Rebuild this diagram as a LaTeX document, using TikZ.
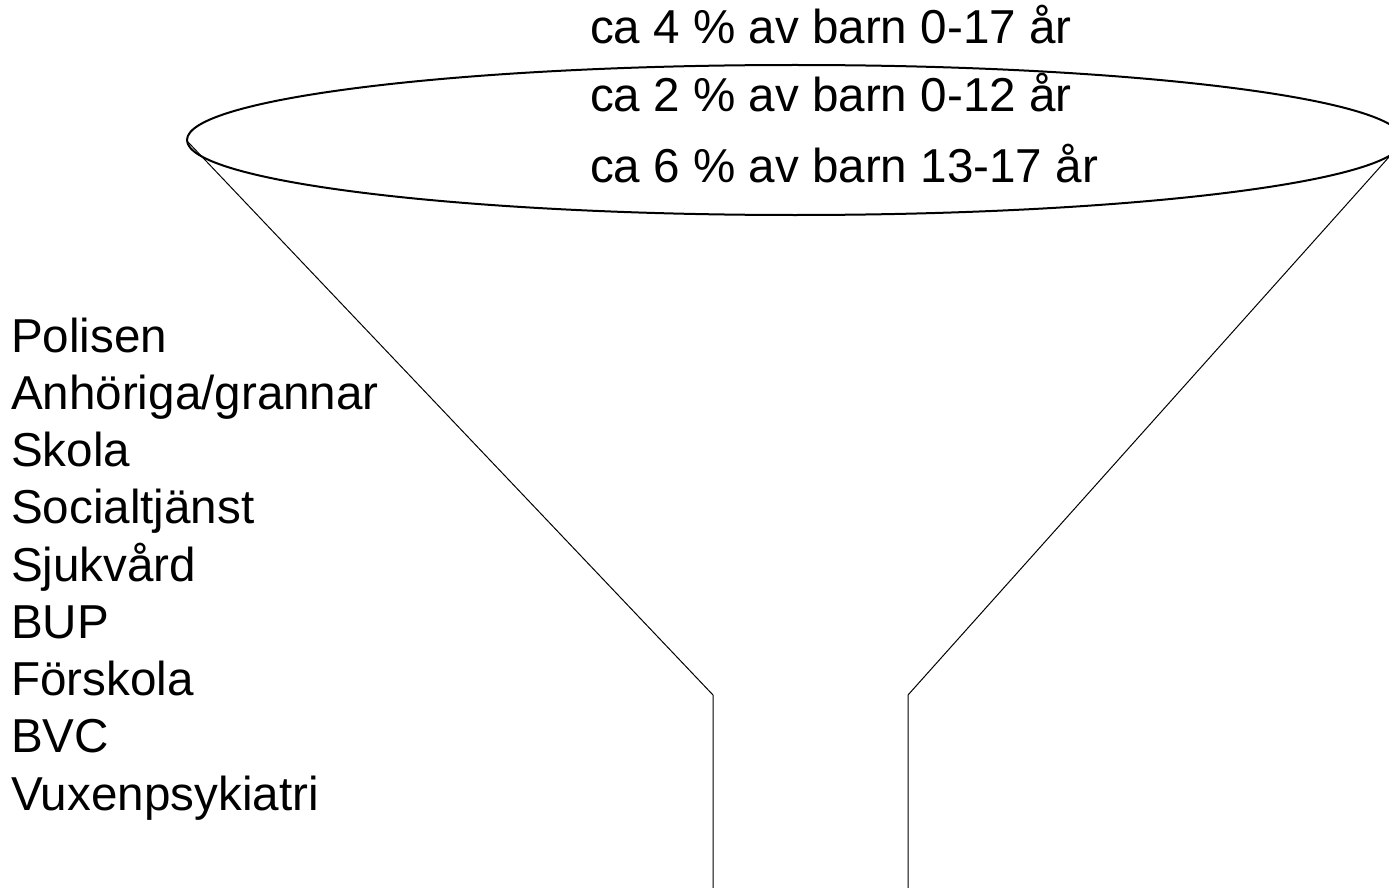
\documentclass[tikz,border=0pt]{standalone}
\usepackage{fontspec}
\setmainfont{Liberation Sans}
\begin{document}
\begin{tikzpicture}[x=1pt,y=-1pt,
  lbl/.style={anchor=base west,inner sep=0pt,outer sep=0pt,font=\fontsize{47.6}{55}\selectfont},
  rim/.style={draw=black,line width=2pt},
  funnelline/.style={draw=black,line width=1pt}]
\clip (0,0) rectangle (1389,888);
% rim of the funnel
\draw[rim] (795,140) ellipse [x radius=608, y radius=75];
% funnel sides
\coordinate (lt) at (188,142);
\coordinate (lm) at (713,695);
\coordinate (lb) at (713,888);
\coordinate (rt) at (1389,157);
\coordinate (rm) at (908,695);
\coordinate (rb) at (908,888);
\draw[funnelline] (lt) -- (lm) -- (lb);
\draw[funnelline] (rt) -- (rm) -- (rb);
% top texts
\node[lbl] (t1) at (590,44) {ca 4 \% av barn 0-17 år};
\node[lbl] (t2) at (590,112) {ca 2 \% av barn 0-12 år};
\node[lbl] (t3) at (590,182) {ca 6 \% av barn 13-17 år};
% list
\node[lbl] (s1) at (11,352) {Polisen};
\node[lbl] (s2) at (11,409.25) {Anhöriga/grannar};
\node[lbl] (s3) at (11,466.5) {Skola};
\node[lbl] (s4) at (11,523.75) {Socialtjänst};
\node[lbl] (s5) at (11,581) {Sjukvård};
\node[lbl] (s6) at (11,638.25) {BUP};
\node[lbl] (s7) at (11,695.5) {Förskola};
\node[lbl] (s8) at (11,752.75) {BVC};
\node[lbl] (s9) at (11,810) {Vuxenpsykiatri};
\end{tikzpicture}
\end{document}
